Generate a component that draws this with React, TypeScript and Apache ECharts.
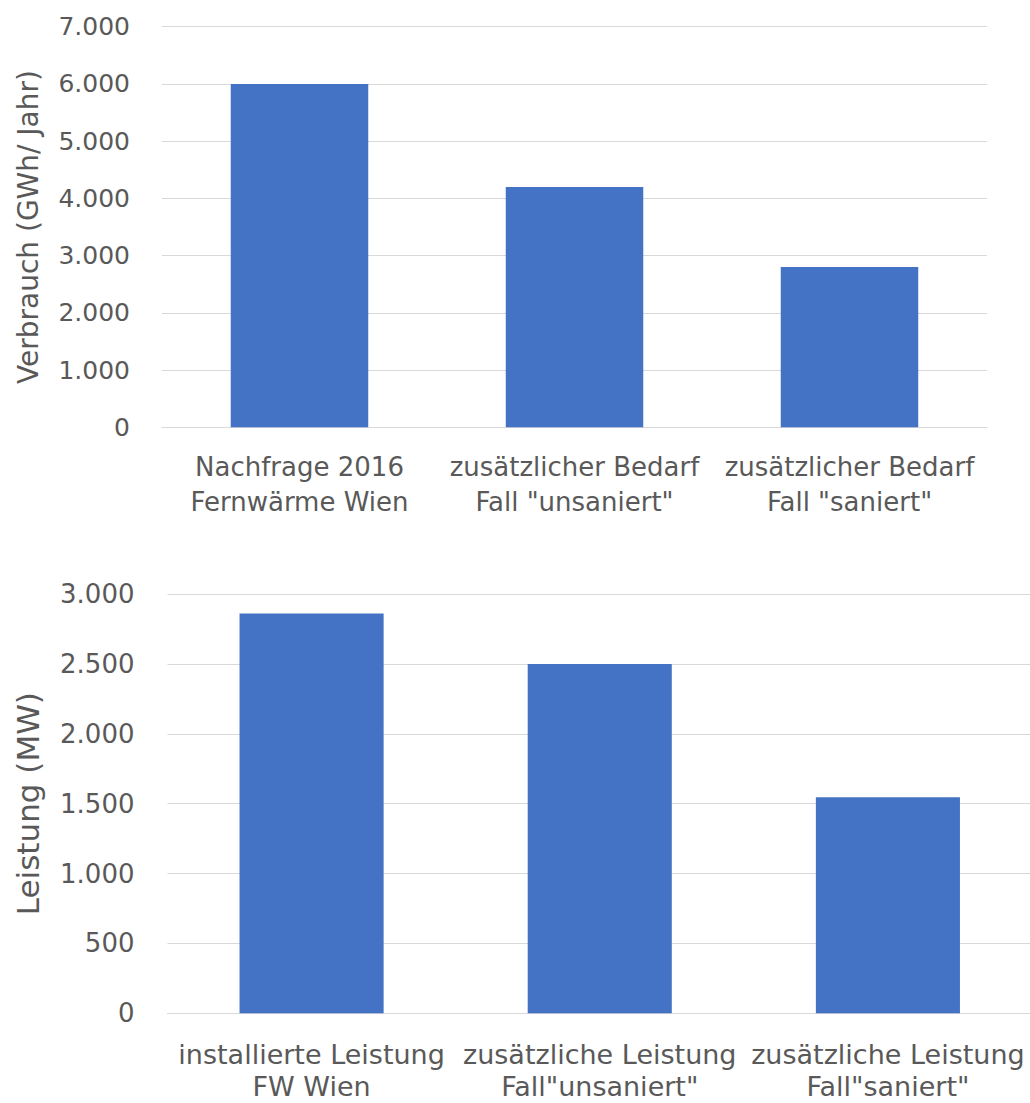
import React, { useEffect, useRef } from "react";
import * as echarts from "echarts";

const topCategories = ["Nachfrage 2016\nFernwärme Wien", "zusätzlicher Bedarf\nFall \"unsaniert\"", "zusätzlicher Bedarf\nFall \"saniert\""];
const topValues = [6000, 4200, 2800];
const topAxisName = "Verbrauch (GWh/ Jahr)";

const bottomCategories = ["installierte Leistung\nFW Wien", "zusätzliche Leistung\nFall\"unsaniert\"", "zusätzliche Leistung\nFall\"saniert\""];
const bottomValues = [2860, 2500, 1545];
const bottomAxisName = "Leistung (MW)";

const FONT = "DejaVu Sans";
const TEXT = "#595959";
const GRID = "#d9d9d9";
const BAR = "#4472C4";

const fmt = (v: number) => String(v).replace(/\B(?=(\d{3})+(?!\d))/g, ".");

export default function App() {
  const ref = useRef<HTMLDivElement>(null);
  useEffect(() => {
    document.body.style.margin = "0";
    document.body.style.overflow = "hidden";
    const chart = echarts.init(ref.current!, null, { renderer: "svg", width: 1030, height: 1103 });
    const xAxisBase = (gridIndex: number, data: string[], margin: number, fontSize: number, lineHeight: number) => ({
      type: "category" as const,
      gridIndex,
      data,
      axisLine: { show: true, lineStyle: { color: GRID, width: 1 } },
      axisTick: { show: false },
      axisLabel: { color: TEXT, fontFamily: FONT, fontSize, lineHeight, margin, interval: 0 },
    });
    const yAxisBase = (
      gridIndex: number,
      max: number,
      interval: number,
      name: string,
      nameGap: number,
      nameSize: number,
      margin: number,
      fontSize: number
    ) => ({
      type: "value" as const,
      gridIndex,
      min: 0,
      max,
      interval,
      name,
      nameLocation: "middle" as const,
      nameGap,
      nameTextStyle: { color: TEXT, fontFamily: FONT, fontSize: nameSize },
      axisLine: { show: false },
      axisTick: { show: false },
      axisLabel: { color: TEXT, fontFamily: FONT, fontSize, margin, formatter: fmt },
      splitLine: { lineStyle: { color: GRID, width: 1 } },
    });
    chart.setOption({
      animation: false,
      grid: [
        { left: 162, width: 825, top: 26.7, height: 400.6, outerBoundsMode: "none", containLabel: false },
        { left: 167.5, width: 864.5, top: 594, height: 419.3, outerBoundsMode: "none", containLabel: false },
      ],
      xAxis: [xAxisBase(0, topCategories, 22, 26, 35), xAxisBase(1, bottomCategories, 25, 27, 32)],
      yAxis: [
        yAxisBase(0, 7000, 1000, topAxisName, 120, 28, 32, 25),
        yAxisBase(1, 3000, 500, bottomAxisName, 124, 31, 33, 26),
      ],
      series: [
        { type: "bar", xAxisIndex: 0, yAxisIndex: 0, data: topValues, barWidth: "50%", itemStyle: { color: BAR } },
        { type: "bar", xAxisIndex: 1, yAxisIndex: 1, data: bottomValues, barWidth: "50%", itemStyle: { color: BAR } },
      ],
    });
    return () => chart.dispose();
  }, []);
  return (
    <div
      ref={ref}
      style={{ position: "fixed", left: 0, top: 0, width: 1030, height: 1103, background: "#fff" }}
    />
  );
}
